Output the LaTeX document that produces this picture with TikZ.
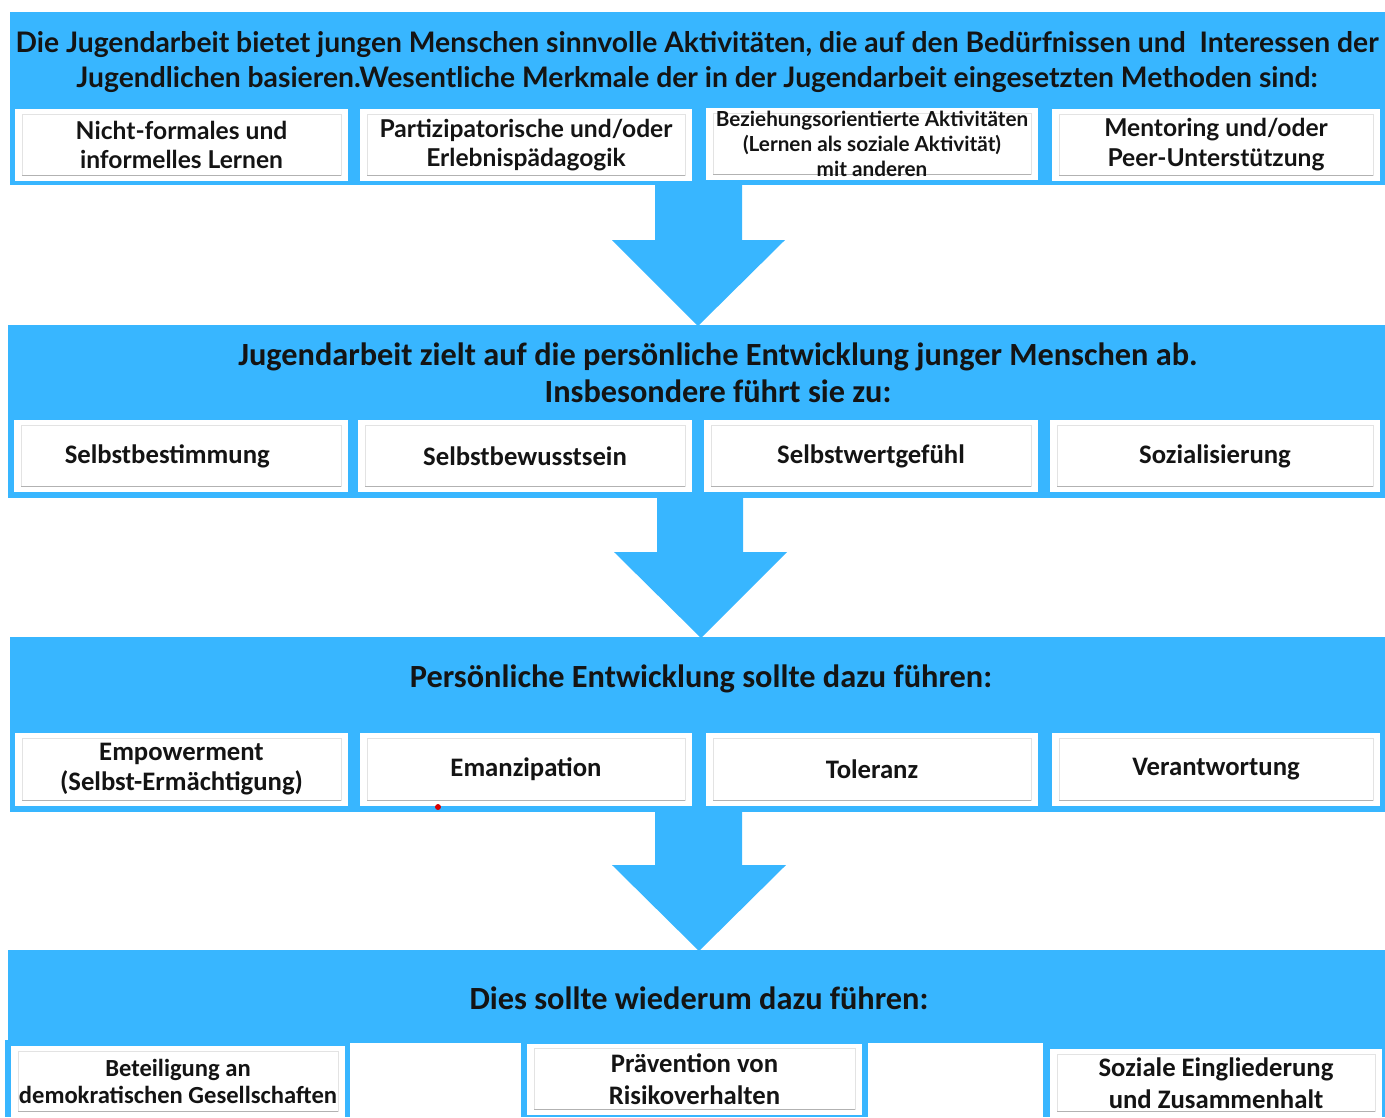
\documentclass[tikz,border=0pt]{standalone}
\usepackage{fontspec}
\setmainfont{Carlito}
\newfontfamily\headfont{Lato}
\definecolor{band}{HTML}{38B6FF}
\definecolor{ink}{HTML}{141414}

\tikzset{
    inframe/.style={path picture={
        \draw[gray!22] ([shift={(4pt,-3pt)}]path picture bounding box.north west) rectangle ([shift={(-4pt,3pt)}]path picture bounding box.south east);
        \draw[gray!60,line width=0.8pt] ([shift={(4pt,3pt)}]path picture bounding box.south west) -- ([shift={(-4pt,3pt)}]path picture bounding box.south east);
    }}
}

\begin{document}
\begin{tikzpicture}[x=0.02cm,y=-0.02cm]
    \useasboundingbox (0,0) rectangle (1385,1117);

    % blue bands and arrows
    \fill[band] (10,12) rectangle (1385,185);
    \fill[band] (8,325) rectangle (1385,498);
    \fill[band] (10,637) rectangle (1385,812);
    \fill[band] (8,950) rectangle (1385,1043);
    \fill[band] (5,1040) rectangle (350,1117);
    \fill[band] (521,1040) rectangle (868,1117);
    \fill[band] (1043,1040) rectangle (1385,1117);

    \fill[band] (655,184) -- (742,184) -- (742,240) -- (785,240) -- (698,326) -- (612,240) -- (655,240) -- cycle;
    \fill[band] (657,497) -- (743,497) -- (743,552) -- (787,552) -- (701,638) -- (614,552) -- (657,552) -- cycle;
    \fill[band] (655,811) -- (742,811) -- (742,865) -- (786,865) -- (699,951) -- (612,865) -- (655,865) -- cycle;

    % headings
    \begin{scope}[every node/.style={text=ink,align=center,inner sep=0pt}]
        \node[font=\headfont\bfseries\fontsize{16.1}{19.9}\selectfont] (intro) at (697,62)
            {Die Jugendarbeit bietet jungen Menschen sinnvolle Aktivitäten, die auf den Bedürfnissen und\ \ Interessen der\\Jugendlichen basieren.Wesentliche Merkmale der in der Jugendarbeit eingesetzten Methoden sind:};
        \node[font=\bfseries\fontsize{18.4}{21}\selectfont] (ziel) at (718,373)
            {Jugendarbeit zielt auf die persönliche Entwicklung junger Menschen ab.\\Insbesondere führt sie zu:};
        \node[font=\bfseries\fontsize{18.4}{21}\selectfont] (entw) at (701,679)
            {Persönliche Entwicklung sollte dazu führen:};
        \node[font=\bfseries\fontsize{18.4}{21}\selectfont] (folge) at (699,998)
            {Dies sollte wiederum dazu führen:};
    \end{scope}

    % methods
    \begin{scope}[every node/.style={fill=white,inframe,text=ink,align=center,inner sep=0pt,minimum height=1.44cm,
            font=\headfont\bfseries\fontsize{14}{17}\selectfont}]
        \node[minimum width=6.66cm] (m1) at (181.5,145) {Nicht-formales und\\informelles Lernen};
        \node[minimum width=6.64cm] (m2) at (526,145) {Partizipatorische und/oder\\Erlebnispädagogik};
        \node[minimum width=6.64cm,font=\headfont\bfseries\fontsize{11.8}{14.2}\selectfont] (m3) at (872,144)
            {Beziehungsorientierte Aktivitäten\\(Lernen als soziale Aktivität)\\mit anderen};
        \node[minimum width=6.56cm] (m4) at (1216,145) {Mentoring und/oder\\Peer-Unterstützung};
    \end{scope}

    % development
    \begin{scope}[every node/.style={fill=white,inframe,text=ink,align=center,inner sep=0pt,minimum height=1.44cm,
            font=\bfseries\fontsize{15.2}{17}\selectfont}]
        \node[minimum width=6.68cm] (d1) at (181,456) {Selbstbestimmung\hspace*{0.55cm}};
        \node[minimum width=6.68cm] (d2) at (525,456) {Selbstbewusstsein};
        \node[minimum width=6.68cm] (d3) at (871,456) {Selbstwertgefühl};
        \node[minimum width=6.60cm] (d4) at (1215,456) {Sozialisierung};

        \node[minimum width=6.66cm,minimum height=1.46cm] (e1) at (181.5,769.5) {Empowerment\\(Selbst-Ermächtigung)};
        \node[minimum width=6.64cm,minimum height=1.46cm] (e2) at (526,769.5) {Emanzipation};
        \node[minimum width=6.64cm,minimum height=1.46cm] (e3) at (872,769.5) {Toleranz};
        \node[minimum width=6.56cm,minimum height=1.46cm] (e4) at (1216,769.5) {Verantwortung};
    \end{scope}

    % outcomes
    \begin{scope}[every node/.style={fill=white,inframe,text=ink,align=center,inner sep=0pt,
            font=\bfseries\fontsize{15.2}{18}\selectfont}]
        \node[minimum width=6.68cm,minimum height=1.42cm,font=\bfseries\fontsize{14}{15.5}\selectfont] (o1) at (178,1081.5)
            {Beteiligung an\\demokratischen Gesellschaften};
        \node[minimum width=6.70cm,minimum height=1.42cm] (o2) at (694.5,1079) {Prävention von\\Risikoverhalten};
        \node[minimum width=6.64cm,minimum height=1.36cm] (o3) at (1216,1083) {Soziale Eingliederung\\und Zusammenhalt};
    \end{scope}

    \fill[red!85!black] (438,807) circle (1.7pt);

\end{tikzpicture}
\end{document}
